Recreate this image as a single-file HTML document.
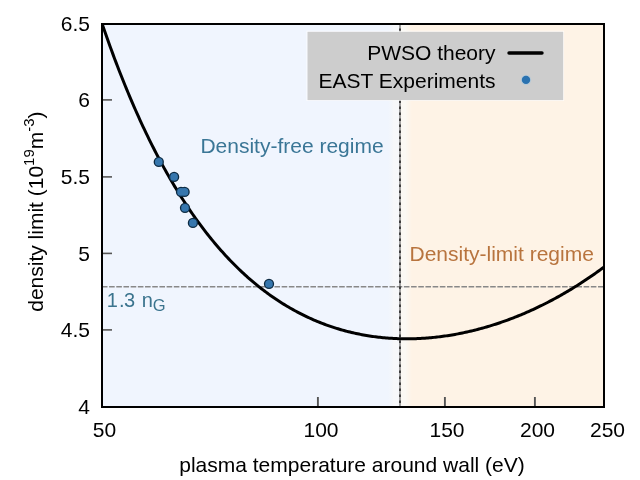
<!DOCTYPE html>
<html><head><meta charset="utf-8">
<style>
html,body{margin:0;padding:0;background:#fff;}
svg{display:block;will-change:transform;}
text{font-family:"Liberation Sans", sans-serif;}
</style></head><body>
<svg width="640" height="480" viewBox="0 0 640 480">
<defs>
<linearGradient id="gb" x1="0" x2="1" y1="0" y2="0">
<stop offset="0" stop-color="#f0f5fe"/><stop offset="1" stop-color="#f5f7fa"/>
</linearGradient>
<linearGradient id="go" x1="0" x2="1" y1="0" y2="0">
<stop offset="0" stop-color="#fbf8f2"/><stop offset="1" stop-color="#fef3e6"/>
</linearGradient>
</defs>
<rect x="0" y="0" width="640" height="480" fill="#ffffff"/>
<!-- backgrounds -->
<rect x="103" y="25" width="297" height="381" fill="#f0f5fe"/>
<rect x="388" y="25" width="5" height="381" fill="url(#gb)"/>
<rect x="393" y="25" width="7" height="381" fill="#f7f8fa"/>
<rect x="400" y="25" width="203" height="381" fill="#fef3e6"/>
<rect x="400" y="25" width="6" height="381" fill="#fbf9f4"/>
<rect x="406" y="25" width="6" height="381" fill="url(#go)"/>
<!-- ticks -->
<g stroke="#555" stroke-width="1.6">
<line x1="102" y1="99.9" x2="112" y2="99.9"/>
<line x1="102" y1="176.9" x2="112" y2="176.9"/>
<line x1="102" y1="253.4" x2="112" y2="253.4"/>
<line x1="102" y1="329.9" x2="112" y2="329.9"/>
</g>
<g stroke="#555" stroke-width="1.9">
<line x1="317.9" y1="397" x2="317.9" y2="407"/>
<line x1="444.9" y1="397" x2="444.9" y2="407"/>
<line x1="534.9" y1="397" x2="534.9" y2="407"/>
</g>
<!-- dashed lines -->
<line x1="101.9" y1="286.8" x2="603" y2="286.8" stroke="#888888" stroke-width="1.6" stroke-dasharray="5.59 1.6"/>
<line x1="400" y1="25" x2="400" y2="406" stroke="#7a7a7a" stroke-width="1.4"/>
<line x1="400" y1="25" x2="400" y2="406" stroke="#262626" stroke-width="1.6" stroke-dasharray="2.6 3.4" stroke-dashoffset="2.5"/>
<!-- curve -->
<polyline points="102.5,24.96 104.0,29.31 105.5,33.61 107.0,37.86 108.5,42.06 110.0,46.22 111.5,50.32 113.0,54.38 114.5,58.40 116.0,62.37 117.5,66.29 119.0,70.17 120.5,74.01 122.0,77.80 123.5,81.55 125.0,85.25 126.5,88.91 128.0,92.53 129.5,96.11 131.0,99.65 132.5,103.15 134.0,106.60 135.5,110.02 137.0,113.39 138.5,116.73 140.0,120.03 141.5,123.29 143.0,126.52 144.5,129.70 146.0,132.85 147.5,135.96 149.0,139.04 150.5,142.08 152.0,145.08 153.5,148.05 155.0,150.98 156.5,153.88 158.0,156.75 159.5,159.58 161.0,162.38 162.5,165.14 164.0,167.88 165.5,170.58 167.0,173.24 168.5,175.88 170.0,178.48 171.5,181.06 173.0,183.60 174.5,186.11 176.0,188.59 177.5,191.05 179.0,193.47 180.5,195.86 182.0,198.23 183.5,200.56 185.0,202.87 186.5,205.15 188.0,207.40 189.5,209.62 191.0,211.82 192.5,213.99 194.0,216.13 195.5,218.25 197.0,220.34 198.5,222.40 200.0,224.44 201.5,226.45 203.0,228.44 204.5,230.41 206.0,232.34 207.5,234.26 209.0,236.15 210.5,238.01 212.0,239.85 213.5,241.67 215.0,243.47 216.5,245.24 218.0,246.99 219.5,248.72 221.0,250.42 222.5,252.10 224.0,253.76 225.5,255.40 227.0,257.02 228.5,258.62 230.0,260.19 231.5,261.74 233.0,263.28 234.5,264.79 236.0,266.28 237.5,267.75 239.0,269.21 240.5,270.64 242.0,272.05 243.5,273.45 245.0,274.82 246.5,276.17 248.0,277.51 249.5,278.83 251.0,280.13 252.5,281.41 254.0,282.67 255.5,283.92 257.0,285.14 258.5,286.35 260.0,287.55 261.5,288.72 263.0,289.88 264.5,291.02 266.0,292.14 267.5,293.25 269.0,294.34 270.5,295.41 272.0,296.47 273.5,297.51 275.0,298.54 276.5,299.55 278.0,300.54 279.5,301.52 281.0,302.48 282.5,303.43 284.0,304.36 285.5,305.28 287.0,306.18 288.5,307.07 290.0,307.94 291.5,308.80 293.0,309.64 294.5,310.47 296.0,311.29 297.5,312.09 299.0,312.88 300.5,313.65 302.0,314.41 303.5,315.16 305.0,315.89 306.5,316.61 308.0,317.32 309.5,318.01 311.0,318.69 312.5,319.36 314.0,320.01 315.5,320.65 317.0,321.28 318.5,321.90 320.0,322.50 321.5,323.09 323.0,323.67 324.5,324.24 326.0,324.79 327.5,325.33 329.0,325.86 330.5,326.38 332.0,326.89 333.5,327.38 335.0,327.87 336.5,328.34 338.0,328.80 339.5,329.25 341.0,329.69 342.5,330.11 344.0,330.53 345.5,330.93 347.0,331.33 348.5,331.71 350.0,332.08 351.5,332.44 353.0,332.80 354.5,333.14 356.0,333.46 357.5,333.78 359.0,334.09 360.5,334.39 362.0,334.68 363.5,334.96 365.0,335.22 366.5,335.48 368.0,335.73 369.5,335.96 371.0,336.19 372.5,336.41 374.0,336.62 375.5,336.81 377.0,337.00 378.5,337.18 380.0,337.35 381.5,337.51 383.0,337.66 384.5,337.80 386.0,337.93 387.5,338.05 389.0,338.16 390.5,338.27 392.0,338.36 393.5,338.44 395.0,338.52 396.5,338.59 398.0,338.64 399.5,338.69 401.0,338.73 402.5,338.76 404.0,338.78 405.5,338.79 407.0,338.80 408.5,338.79 410.0,338.78 411.5,338.76 413.0,338.72 414.5,338.68 416.0,338.63 417.5,338.58 419.0,338.51 420.5,338.44 422.0,338.35 423.5,338.26 425.0,338.16 426.5,338.05 428.0,337.94 429.5,337.81 431.0,337.68 432.5,337.53 434.0,337.38 435.5,337.22 437.0,337.06 438.5,336.88 440.0,336.70 441.5,336.51 443.0,336.31 444.5,336.10 446.0,335.88 447.5,335.66 449.0,335.42 450.5,335.18 452.0,334.93 453.5,334.68 455.0,334.41 456.5,334.14 458.0,333.86 459.5,333.57 461.0,333.27 462.5,332.96 464.0,332.65 465.5,332.33 467.0,332.00 468.5,331.66 470.0,331.31 471.5,330.96 473.0,330.60 474.5,330.23 476.0,329.85 477.5,329.46 479.0,329.07 480.5,328.67 482.0,328.26 483.5,327.84 485.0,327.41 486.5,326.98 488.0,326.54 489.5,326.09 491.0,325.63 492.5,325.16 494.0,324.69 495.5,324.21 497.0,323.72 498.5,323.22 500.0,322.71 501.5,322.20 503.0,321.68 504.5,321.15 506.0,320.61 507.5,320.06 509.0,319.51 510.5,318.94 512.0,318.37 513.5,317.79 515.0,317.21 516.5,316.61 518.0,316.01 519.5,315.40 521.0,314.78 522.5,314.15 524.0,313.51 525.5,312.87 527.0,312.22 528.5,311.56 530.0,310.89 531.5,310.21 533.0,309.52 534.5,308.83 536.0,308.13 537.5,307.42 539.0,306.70 540.5,305.97 542.0,305.23 543.5,304.49 545.0,303.74 546.5,302.98 548.0,302.21 549.5,301.43 551.0,300.64 552.5,299.84 554.0,299.04 555.5,298.23 557.0,297.40 558.5,296.57 560.0,295.73 561.5,294.89 563.0,294.03 564.5,293.16 566.0,292.29 567.5,291.40 569.0,290.51 570.5,289.61 572.0,288.70 573.5,287.78 575.0,286.85 576.5,285.91 578.0,284.97 579.5,284.01 581.0,283.05 582.5,282.07 584.0,281.09 585.5,280.09 587.0,279.09 588.5,278.08 590.0,277.06 591.5,276.03 593.0,274.99 594.5,273.94 596.0,272.88 597.5,271.81 599.0,270.73 600.5,269.64 602.0,268.54 603.5,267.43 604.0,267.06" fill="none" stroke="#000" stroke-width="3" stroke-linejoin="round"/>
<!-- points -->
<g fill="#0c2a42">
<circle cx="158.8" cy="161.95" r="5.15"/>
<circle cx="174.1" cy="176.9" r="5.15"/>
<circle cx="181" cy="191.9" r="5.15"/>
<circle cx="184.6" cy="191.9" r="5.15"/>
<circle cx="185" cy="207.9" r="5.15"/>
<circle cx="192.9" cy="222.9" r="5.15"/>
<circle cx="269" cy="283.9" r="5.15"/>
</g>
<g fill="#3676ad">
<circle cx="158.8" cy="161.95" r="3.85"/>
<circle cx="174.1" cy="176.9" r="3.85"/>
<circle cx="181" cy="191.9" r="3.85"/>
<circle cx="184.6" cy="191.9" r="3.85"/>
<circle cx="185" cy="207.9" r="3.85"/>
<circle cx="192.9" cy="222.9" r="3.85"/>
<circle cx="269" cy="283.9" r="3.85"/>
</g>
<!-- border -->
<rect x="102" y="24" width="502" height="383" fill="none" stroke="#000" stroke-width="2"/>
<!-- legend -->
<rect x="307" y="31.3" width="256.5" height="69" fill="none" stroke="#fff" stroke-opacity="0.7" stroke-width="1.2"/>
<rect x="307.5" y="31.8" width="255.7" height="68.3" fill="#cdcdcd"/>
<text x="495.5" y="60.2" font-size="21" text-anchor="end" fill="#000">PWSO theory</text>
<text x="495.5" y="87.8" font-size="21" text-anchor="end" fill="#000">EAST Experiments</text>
<line x1="509" y1="53" x2="542" y2="53" stroke="#000" stroke-width="3.4" stroke-linecap="round"/>
<circle cx="526" cy="79.9" r="5.2" fill="#a8c8e0" fill-opacity="0.6"/>
<circle cx="526" cy="79.9" r="4.2" fill="#2a72b0"/>
<!-- annotations -->
<text x="200.4" y="153.4" font-size="21" fill="#3a7696">Density-free regime</text>
<text x="409.5" y="260.7" font-size="21" fill="#b8743e">Density-limit regime</text>
<text y="306.7" font-size="20" fill="#3b748e"><tspan x="106.8">1</tspan><tspan x="119.1">.</tspan><tspan x="124.1">3</tspan><tspan x="141.8">n</tspan><tspan x="152.8" font-size="16.5" dy="4.6">G</tspan></text>
<!-- y tick labels -->
<g font-size="21" text-anchor="end" fill="#000">
<text x="90" y="31">6.5</text>
<text x="90" y="107">6</text>
<text x="90" y="184">5.5</text>
<text x="90" y="260.5">5</text>
<text x="90" y="337">4.5</text>
<text x="90" y="413.6">4</text>
</g>
<g font-size="21" text-anchor="middle" fill="#000">
<text x="104.5" y="437">50</text>
<text x="321" y="437">100</text>
<text x="447" y="437">150</text>
<text x="537.5" y="437">200</text>
<text x="607.5" y="437">250</text>
</g>
<text x="352" y="471.5" font-size="21" text-anchor="middle" fill="#000">plasma temperature around wall (eV)</text>
<text transform="translate(42.6,211.6) rotate(-90)" font-size="21" text-anchor="middle" fill="#000">density limit (10<tspan font-size="15" dy="-8.8">19</tspan><tspan dy="8.8">m</tspan><tspan font-size="15" dy="-8.8">-3</tspan><tspan dy="8.8">)</tspan></text>
</svg>
</body></html>
